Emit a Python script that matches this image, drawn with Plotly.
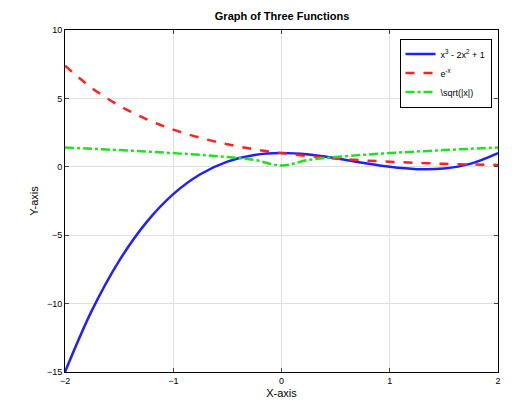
import plotly.graph_objects as go

x = [-2, -1.75, -1.5, -1.25, -1, -0.75, -0.5, -0.25, 0, 0.25, 0.5, 0.75, 1, 1.25, 1.5, 1.75, 2]
y_cubic = [-15, -10.48, -6.875, -4.08, -2, -0.547, 0.375, 0.859, 1, 0.891, 0.625, 0.297, 0, -0.172, -0.125, 0.234, 1]
y_exp = [7.39, 5.75, 4.48, 3.49, 2.72, 2.12, 1.65, 1.28, 1, 0.78, 0.61, 0.47, 0.37, 0.29, 0.22, 0.17, 0.14]
y_sqrt = [1.41, 1.32, 1.22, 1.12, 1.0, 0.87, 0.71, 0.5, 0.1, 0.5, 0.71, 0.87, 1.0, 1.12, 1.22, 1.32, 1.41]

fig = go.Figure()
fig.add_trace(go.Scatter(x=x, y=y_cubic, mode="lines", line=dict(color="#2020ff", width=2.5, shape="spline"),
                         name="x<sup>3</sup> - 2x<sup>2</sup> + 1"))
fig.add_trace(go.Scatter(x=x, y=y_exp, mode="lines", line=dict(color="#ff2020", width=2.5, dash="dash", shape="spline"),
                         name="e<sup>-x</sup>"))
fig.add_trace(go.Scatter(x=x, y=y_sqrt, mode="lines", line=dict(color="#20e020", width=2.5, dash="dashdot", shape="spline"),
                         name="\\sqrt(|x|)"))

ax = dict(showline=True, linecolor="black", mirror="ticks", ticks="inside", ticklen=4,
          gridcolor="#e0e0e0", zeroline=False, tickfont=dict(size=9, color="black"),
          title_font=dict(size=11, color="black"), automargin=False)
fig.update_layout(
    width=522, height=407, plot_bgcolor="white", paper_bgcolor="white",
    font=dict(family="Liberation Sans, Arial", color="black"),
    title=dict(text="<b>Graph of Three Functions</b>", x=0.525, xanchor="center", y=0.99, yanchor="top",
               font=dict(size=11)),
    margin=dict(l=57, r=32, t=22, b=43, autoexpand=False),
    xaxis=dict(ax, range=[-2, 2], tickvals=[-2, -1, 0, 1, 2], title=dict(text="X-axis", standoff=4)),
    yaxis=dict(ax, range=[-15, 10], tickvals=[-15, -10, -5, 0, 5, 10], title=dict(text="Y-axis", standoff=6)),
    legend=dict(x=0.985, y=0.975, xanchor="right", yanchor="top", bordercolor="black", borderwidth=1,
                bgcolor="white", font=dict(size=9), tracegroupgap=0),
    showlegend=True,
)
fig.write_html("out.html")
